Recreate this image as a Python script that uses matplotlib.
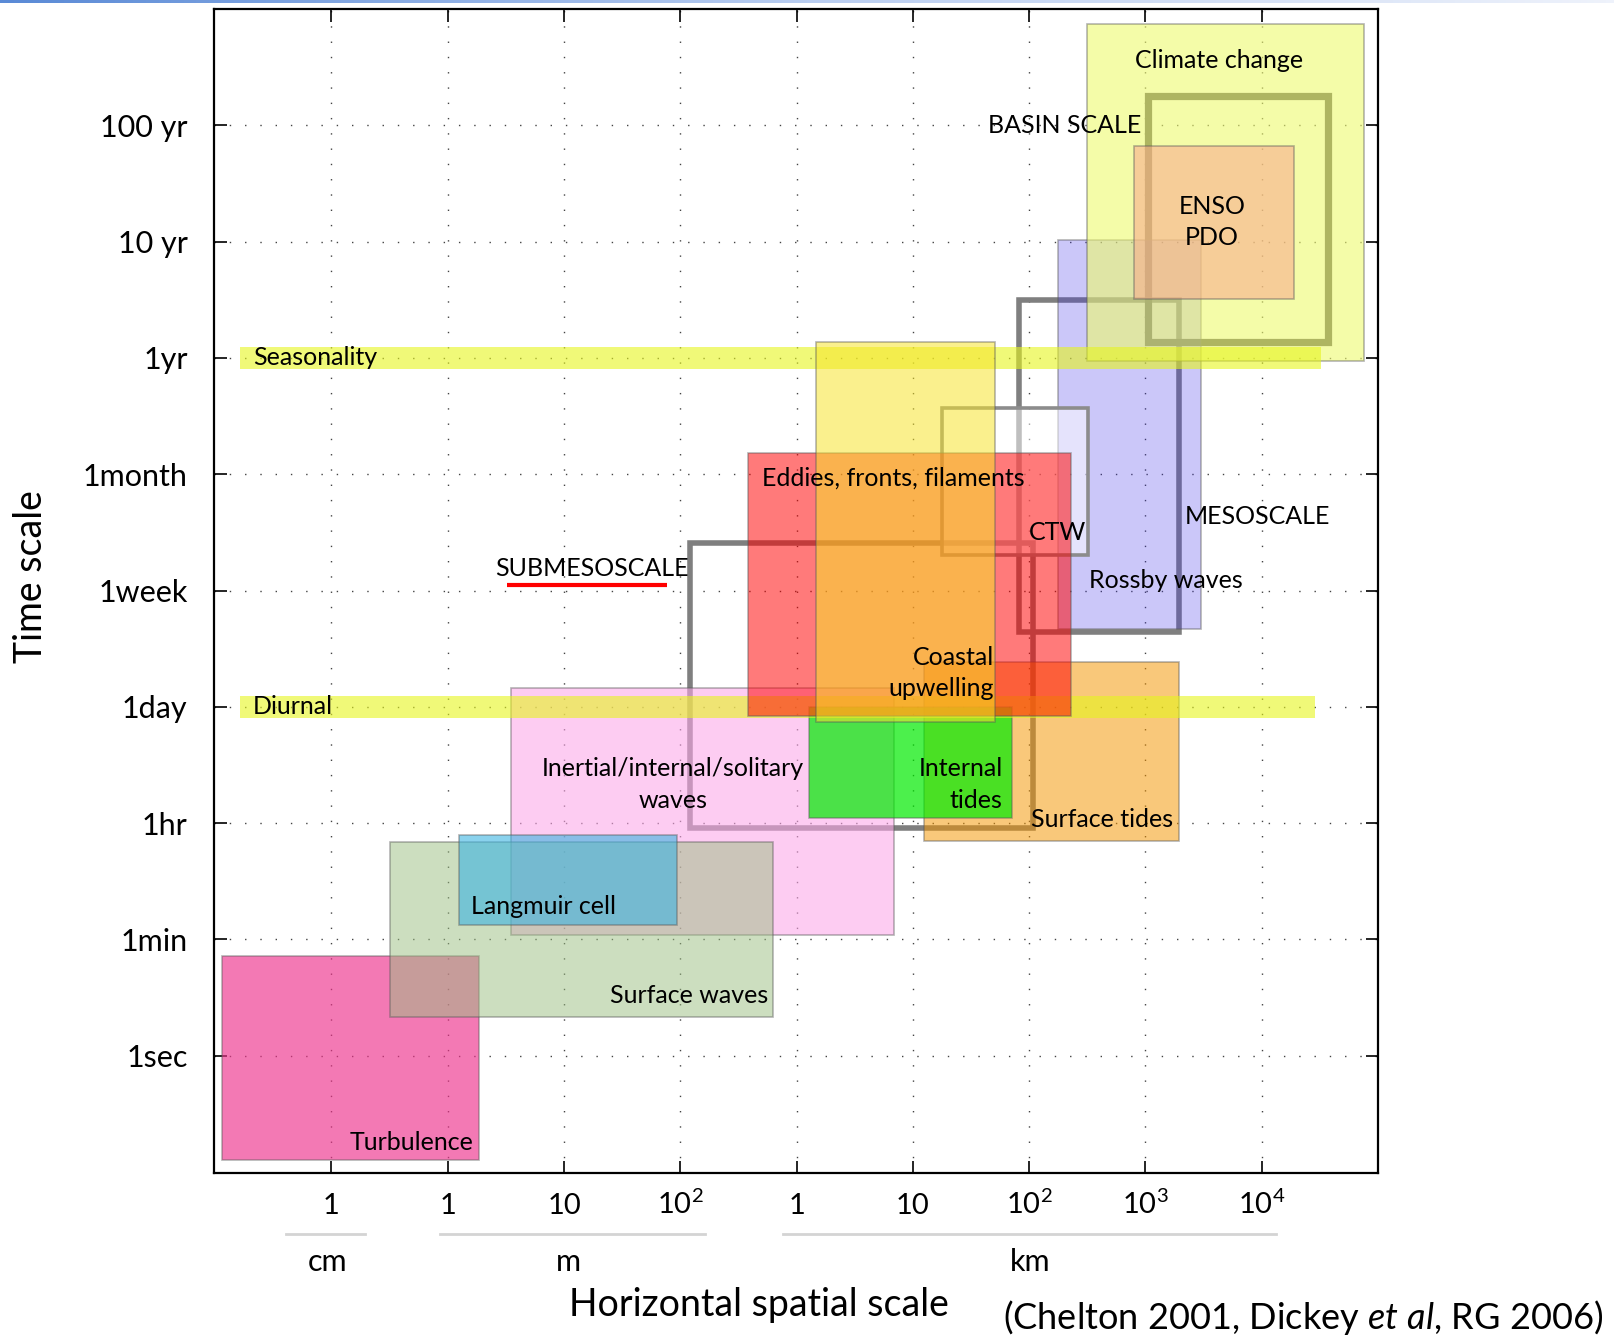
import numpy as np
import matplotlib
matplotlib.use("Agg")
import matplotlib.pyplot as plt
from matplotlib.patches import Rectangle
from matplotlib.colors import LinearSegmentedColormap

plt.rcParams['font.family'] = ['Lato', 'DejaVu Sans']
plt.rcParams['mathtext.fontset'] = 'custom'
plt.rcParams['mathtext.rm'] = 'Lato'
plt.rcParams['mathtext.it'] = 'Lato:italic'

# ---- axis categories (one grid step per position) ----
space_ticks = ["1", "1", "10", "$10^2$", "1", "10", "$10^2$", "$10^3$", "$10^4$"]
time_ticks = ["1sec", "1min", "1hr", "1day", "1week", "1month", "1yr", "10 yr", "100 yr"]

unit_names = ["cm", "m", "km"]
unit_lo = [-0.39, 0.93, 3.88]
unit_hi = [0.29, 3.21, 8.12]
unit_mid = [-0.03, 2.04, 6.01]

# ---- filled process boxes (space index range, time index range) ----
box_names = ["Turbulence", "Inertial", "Surface waves", "Langmuir", "Surface tides",
             "Internal tides", "Rossby", "CTW", "Climate", "ENSO",
             "Eddies", "Coastal"]
box_x0 = [-0.94, 1.54, 0.50, 1.10, 5.10, 4.11, 6.25, 5.25, 6.50, 6.90, 3.585, 4.17]
box_x1 = [1.27, 4.836, 3.80, 2.975, 7.29, 5.85, 7.476, 6.504, 8.877, 8.278, 6.36, 5.71]
box_t0 = [-0.90, 1.038, 0.335, 1.124, 1.85, 2.04, 3.669, 4.305, 5.975, 6.508, 2.92, 2.87]
box_t1 = [0.857, 3.16, 1.837, 1.898, 3.385, 3.00, 7.01, 5.569, 8.874, 7.825, 5.18, 6.14]

# ---- regime outlines ----
regime_names = ["SUBMESOSCALE", "MESOSCALE", "BASIN SCALE"]
regime_x0 = [3.08, 5.917, 7.026]
regime_x1 = [6.03, 7.292, 8.573]
regime_t0 = [1.962, 3.643, 6.14]
regime_t1 = [4.41, 6.502, 8.249]

# ---- periodic forcing bands ----
band_names = ["Seasonality", "Diurnal"]
band_x0 = [-0.79, -0.785]
band_x1 = [8.51, 8.46]
band_t = [6.0, 3.0]

# ---- styles ----
box_style = {
    "Turbulence":     dict(fc=(238/255, 50/255, 140/255), alpha=0.65, z=2.0),
    "Inertial":       dict(fc=(253/255, 167/255, 233/255), alpha=0.58, z=2.1),
    "Surface waves":  dict(fc=(155/255, 191/255, 129/255), alpha=0.5, z=2.2),
    "Langmuir":       dict(fc=(60/255, 180/255, 225/255), alpha=0.6, z=2.3),
    "Surface tides":  dict(fc=(245/255, 150/255, 0/255), alpha=0.52, z=2.4),
    "Internal tides": dict(fc=(0/255, 235/255, 0/255), alpha=0.7, z=2.5),
    "Rossby":         dict(fc=(66/255, 51/255, 236/255), alpha=0.27, z=2.6),
    "CTW":            dict(fc=(1, 1, 1), alpha=0.5, z=2.7),
    "Climate":        dict(fc=(238/255, 250/255, 110/255), alpha=0.6, z=2.8),
    "ENSO":           dict(fc=(249/255, 167/255, 139/255), alpha=0.55, z=2.9),
    "Eddies":         dict(fc=(1.0, 0.0, 0.0), alpha=0.52, z=3.2),
    "Coastal":        dict(fc=(247/255, 228/255, 40/255), alpha=0.53, z=3.3),
}
regime_style = {
    "SUBMESOSCALE": dict(color="#7f7f7f", lw=4.0, z=1.5),
    "MESOSCALE":    dict(color="#7f7f7f", lw=4.0, z=1.5),
    "BASIN SCALE":  dict(color="#505050", lw=5.2, z=1.5),
}

fig = plt.figure(figsize=(16.14, 13.36), dpi=100)
ax = fig.add_axes([0.13259, 0.12223, 0.72119, 0.87103])
ax.set_xlim(-1.01, 9.0)
ax.set_ylim(-1.006, 9.0)

# dotted grid
for i in range(len(space_ticks)):
    ax.axvline(i, color="#444444", lw=1.0, ls=(0, (1, 10)), zorder=0.5)
for j in range(len(time_ticks)):
    ax.axhline(j, color="#444444", lw=1.0, ls=(0, (1, 10)), zorder=0.5)

# regime outlines
for n, x0, x1, t0, t1 in zip(regime_names, regime_x0, regime_x1, regime_t0, regime_t1):
    s = regime_style[n]
    ax.add_patch(Rectangle((x0, t0), x1 - x0, t1 - t0, fill=False,
                           ec=s["color"], lw=s["lw"], zorder=s["z"], joinstyle="miter"))

# process boxes
for n, x0, x1, t0, t1 in zip(box_names, box_x0, box_x1, box_t0, box_t1):
    s = box_style[n]
    fc = (*s["fc"], s["alpha"])
    if n == "CTW":
        ec, lw = "#8c8c8c", 2.6
    else:
        ec, lw = (0.35, 0.35, 0.35, 0.45), 1.2
    ax.add_patch(Rectangle((x0, t0), x1 - x0, t1 - t0, fc=fc, ec=ec, lw=lw, zorder=s["z"]))

# forcing bands
band_h = 0.19
for n, x0, x1, t in zip(band_names, band_x0, band_x1, band_t):
    ax.add_patch(Rectangle((x0, t - band_h / 2), x1 - x0, band_h,
                           fc=(230/255, 245/255, 30/255, 0.6), ec="none", zorder=3.0))

# labels
fs = 18
ls2 = 1.45
lab = dict(fontsize=fs, color="black", zorder=5)
ax.text(-0.673, 6.0, "Seasonality", ha="left", va="center", **lab)
ax.text(-0.673, 3.0, "Diurnal", ha="left", va="center", **lab)
ax.text(7.63, 8.555, "Climate change", ha="center", va="center", **lab)
ax.text(6.306, 8.0, "BASIN SCALE", ha="center", va="center", **lab)
ax.text(7.57, 7.17, "ENSO\nPDO", ha="center", va="center", linespacing=ls2, **lab)
ax.text(7.96, 4.635, "MESOSCALE", ha="center", va="center", **lab)
ax.text(6.24, 4.50, "CTW", ha="center", va="center", **lab)
ax.text(7.175, 4.086, "Rossby waves", ha="center", va="center", **lab)
ax.text(4.83, 4.97, "Eddies, fronts, filaments", ha="center", va="center", **lab)
ax.text(2.237, 4.19, "SUBMESOSCALE", ha="center", va="center", **lab)
ax.plot([1.513, 2.886], [4.05, 4.05], color="red", lw=3.0, solid_capstyle="butt", zorder=5)
ax.text(5.697, 3.29, "Coastal\nupwelling", ha="right", va="center",
        multialignment="right", linespacing=ls2, **lab)
ax.text(2.937, 2.33, "Inertial/internal/solitary\nwaves", ha="center", va="center",
        multialignment="center", linespacing=ls2, **lab)
ax.text(5.771, 2.33, "Internal\ntides", ha="right", va="center",
        multialignment="right", linespacing=ls2, **lab)
ax.text(6.63, 2.03, "Surface tides", ha="center", va="center", **lab)
ax.text(1.825, 1.28, "Langmuir cell", ha="center", va="center", **lab)
ax.text(3.077, 0.518, "Surface waves", ha="center", va="center", **lab)
ax.text(0.687, -0.75, "Turbulence", ha="center", va="center", **lab)

# axes, ticks
ax.set_xticks(range(len(space_ticks)))
ax.set_xticklabels(space_ticks, fontsize=21)
ax.set_yticks(range(len(time_ticks)))
ax.set_yticklabels(time_ticks, fontsize=22)
ax.tick_params(direction="in", length=9, width=1.2, top=True, right=True,
               color="black")
ax.tick_params(axis="x", pad=30)
ax.tick_params(axis="y", pad=19)
for t in ax.get_xticklabels():
    t.set_va("baseline")
for sp in ax.spines.values():
    sp.set_linewidth(1.6)
    sp.set_zorder(6)

# unit groups under the space ticks
for name, lo, hi, mid in zip(unit_names, unit_lo, unit_hi, unit_mid):
    ax.plot([lo, hi], [-1.533, -1.533], color="#d4d4d4", lw=2.0, clip_on=False)
    ax.text(mid, -1.77, name, ha="center", va="center", fontsize=22, clip_on=False)

ax.set_xlabel("Horizontal spatial scale", fontsize=27)
ax.xaxis.set_label_coords(0.468, -0.1138)
ax.xaxis.label.set_va("center")
ax.set_ylabel("Time scale", fontsize=27)
ax.yaxis.set_label_coords(-0.157, 0.512)
ax.yaxis.label.set_va("center")

fig.text(1303 / 1614, 1 - 1317.5 / 1336,
         r"(Chelton 2001, Dickey $\mathit{et\ al}$, RG 2006)",
         ha="center", va="center", fontsize=26)

# thin gradient rule along the top edge
rule = fig.add_axes([0, 1 - 3 / 1336, 1, 3 / 1336])
cmap = LinearSegmentedColormap.from_list("rule", ["#5a8ad6", "#b9cdf0", "#eef2fb"])
rule.imshow(np.linspace(0, 1, 512)[None, :], aspect="auto", cmap=cmap)
rule.set_axis_off()

fig.savefig("out.png", dpi=100)
